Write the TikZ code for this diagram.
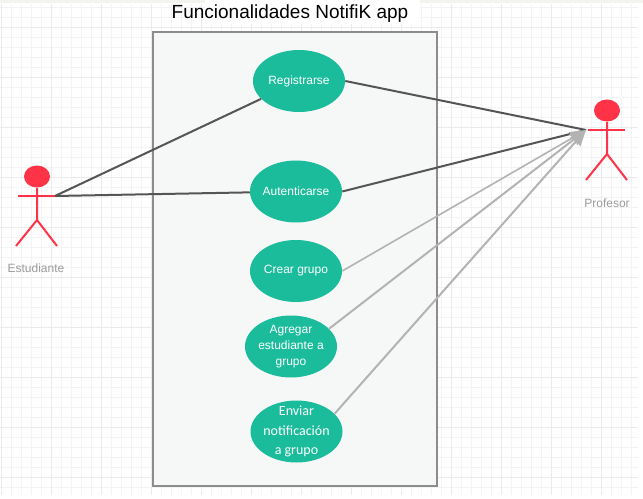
\documentclass[tikz,border=0pt]{standalone}
\usepackage{fontspec}
\setmainfont{Liberation Sans}
\newfontfamily\carlitofont{Carlito}
\usetikzlibrary{arrows.meta}
\usetikzlibrary{shapes.geometric}

\definecolor{gridcol}{HTML}{F3F3F3}
\definecolor{gridmajor}{HTML}{EBEBEB}
\definecolor{usecasecol}{HTML}{1ABC9C}
\definecolor{actorcol}{HTML}{FF3347}
\definecolor{systemcol}{HTML}{8C8C8C}
\definecolor{systemfill}{HTML}{F6F8F8}
\definecolor{assocdark}{HTML}{555555}
\definecolor{assoclight}{HTML}{B3B3B3}
\definecolor{actorlabel}{HTML}{9B9B9B}
\definecolor{stripcol}{HTML}{F5F3EF}

\tikzset{
usecase/.style={ellipse, fill=usecasecol, text=white, minimum width=69pt, minimum height=46.5pt,
  inner xsep=-9pt, inner ysep=-9pt, align=center, font=\fontsize{9}{12}\selectfont},
actorhead/.style={ellipse, fill=actorcol, minimum width=19.5pt, minimum height=16.5pt, inner sep=0pt},
actorline/.style={actorcol, line width=1.5pt},
actortext/.style={text=actorlabel, font=\fontsize{9}{11}\selectfont},
assoc/.style={assocdark, line width=1.5pt},
assocarrow/.style={assoclight, line width=1.5pt, -{Stealth[length=12pt, width=10pt, inset=1pt]}},
}

\begin{document}
\begin{tikzpicture} [x=.75pt, y=-.75pt]
\useasboundingbox (0,0) rectangle (643,499);
\fill[white] (0,0) rectangle (643,499);

\foreach \x in {1,11,...,631}
\draw[gridcol, line width=.6pt] (\x,4) -- (\x,495);
\foreach \y in {7,17,...,487}
\draw[gridcol, line width=.6pt] (0,\y) -- (638,\y);
\foreach \x in {1,51,...,601}
\draw[gridmajor, line width=.6pt] (\x,4) -- (\x,495);
\foreach \y in {27,77,...,477}
\draw[gridmajor, line width=.6pt] (0,\y) -- (638,\y);

\fill[white] (205,0) rectangle (420,24);
\fill[stripcol] (0,0) rectangle (205,3.5);
\fill[stripcol] (420,0) rectangle (643,3.5);

\node (titulo) at (290,14) {\fontsize{14.25}{16}\selectfont Funcionalidades NotifiK app};

\draw[systemcol, fill=systemfill, line width=1.5pt] (153,32) rectangle (437,486);

% use cases
\node[usecase] (registrarse) at (299,81) {\vspace{1.5pt}Registrarse};
\node[usecase] (autenticarse) at (296,191.5) {\vspace{1.5pt}Autenticarse};
\node[usecase] (crear) at (296,271) {\vspace{1.5pt}Crear grupo};
\node[usecase] (agregar) at (291,346.5) {\vspace{3pt}Agregar\\estudiante a\\grupo};
\node[usecase, font=\carlitofont\fontsize{10.5}{14.5}\selectfont] (enviar) at (296.5,431.5) {\vspace{3pt}Enviar\\notificación\\a grupo};

% actors
\node[actorhead] (headest) at (37,176.5) {};
\coordinate (manoest) at (55,196);
\draw[actorline] (headest.south) -- (37,220) -- (16,246);
\draw[actorline] (37,220) -- (57,246);
\draw[actorline] (18,196) -- (manoest);
\node[actortext] (estudiante) at (36,268.5) {Estudiante};

\node[actorhead] (headprof) at (607,110.5) {};
\coordinate (manoprof) at (586,130);
\draw[actorline] (headprof.south) -- (607,154) -- (586,180);
\draw[actorline] (607,154) -- (627,180);
\draw[actorline] (588,130) -- (625,130);
\node[actortext] (profesor) at (607,203) {Profesor};

\draw[assoc] (manoest) -- (registrarse);
\draw[assoc] (manoest) -- (autenticarse);
\draw[assoc] (registrarse.east) -- (manoprof);
\draw[assoc] (autenticarse.east) -- (manoprof);

\draw[assocarrow, line width=1.2pt] (crear.east) -- (manoprof);
\draw[assocarrow] (agregar.25) -- (manoprof);
\draw[assocarrow] (enviar.25) -- (manoprof);

\end{tikzpicture}
\end{document}
